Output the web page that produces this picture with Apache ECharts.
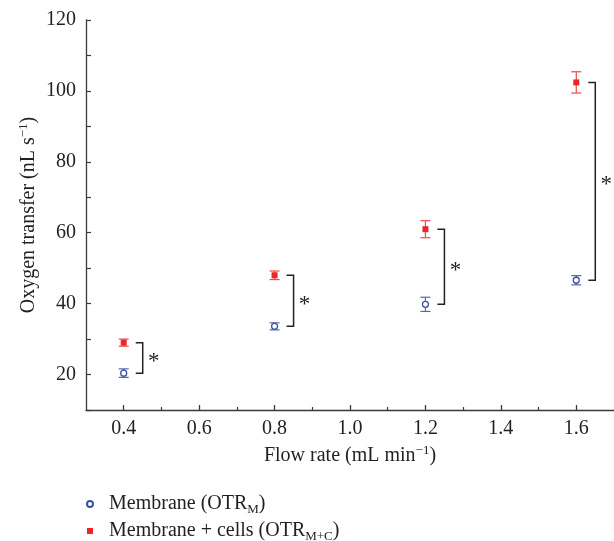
<!DOCTYPE html>
<html>
<head>
<meta charset="utf-8">
<script src="https://cdn.jsdelivr.net/npm/echarts@6/dist/echarts.min.js"></script>
<style>
  html, body { margin: 0; padding: 0; background: #fff; }
  #chart { width: 614px; height: 541px; }
</style>
</head>
<body>
<div id="chart"></div>
<script>
  // values
  const flowRates = [0.4, 0.8, 1.2, 1.6]
  const membrane = [20.4, 33.6, 39.8, 46.6]
  const membraneErr = [1.2, 1.0, 2.0, 1.3]
  const cells = [29.0, 48.0, 61.0, 102.4]
  const cellsErr = [1.0, 1.2, 2.4, 3.0]
  const xLabelTicks = [0.4, 0.6, 0.8, 1.0, 1.2, 1.4, 1.6]
  const xMinorTicks = [0.5, 0.7, 0.9, 1.1, 1.3, 1.5]
  const yLabelTicks = [20, 40, 60, 80, 100, 120]

  const serif = 'Liberation Serif'
  const ink = '#231f20'
  const blue = '#3b50a3'
  const red = '#e8262b'

  function errorBar(color) {
    return function (params, api) {
      const x = api.value(0)
      const lo = api.coord([x, api.value(1)])
      const hi = api.coord([x, api.value(2)])
      const w = 5
      const style = { stroke: color, lineWidth: 1.2 }
      return {
        type: 'group',
        children: [
          { type: 'line', shape: { x1: lo[0], y1: lo[1], x2: hi[0], y2: hi[1] }, style: style },
          { type: 'line', shape: { x1: lo[0] - w, y1: lo[1], x2: lo[0] + w, y2: lo[1] }, style: style },
          { type: 'line', shape: { x1: hi[0] - w, y1: hi[1], x2: hi[0] + w, y2: hi[1] }, style: style }
        ]
      }
    }
  }

  // significance bracket between the two means, with a star
  function bracket(params, api) {
    const x = api.value(0)
    const top = api.coord([x, api.value(1)])
    const bot = api.coord([x, api.value(2)])
    const a = top[0] + 12
    const b = top[0] + 19
    return {
      type: 'group',
      children: [
        {
          type: 'polyline',
          shape: { points: [[a, top[1]], [b, top[1]], [b, bot[1]], [a, bot[1]]] },
          style: { stroke: '#222', lineWidth: 1.5, fill: null }
        },
        {
          type: 'text',
          x: b + 11,
          y: (top[1] + bot[1]) / 2 + 4,
          style: { text: '*', font: '23px "' + serif + '"', fill: ink, align: 'center', verticalAlign: 'middle' }
        }
      ]
    }
  }

  const membraneBars = flowRates.map((x, i) => [x, membrane[i] - membraneErr[i], membrane[i] + membraneErr[i]])
  const cellsBars = flowRates.map((x, i) => [x, cells[i] - cellsErr[i], cells[i] + cellsErr[i]])
  const brackets = flowRates.map((x, i) => [x, cells[i], membrane[i]])

  const axisLine = { lineStyle: { color: '#3a3a3a', width: 1.3 } }
  const supRich = {
    sup: { fontFamily: serif, fontSize: 13, color: ink, verticalAlign: 'top', lineHeight: 24 }
  }

  let option = {
    animation: false,
    backgroundColor: '#fff',
    grid: { left: 86, right: 0, top: 20, bottom: 131 },
    legend: {
      orient: 'vertical',
      left: 86,
      top: 492,
      height: 120,
      padding: 0,
      itemGap: 3,
      itemWidth: 6,
      itemHeight: 6,
      data: [
        { name: 'Membrane', icon: 'circle' },
        { name: 'Membrane + cells', icon: 'rect' }
      ],
      formatter: function (name) {
        return name === 'Membrane' ? 'Membrane (OTR{sub|M})' : 'Membrane + cells (OTR{sub|M+C})'
      },
      textStyle: {
        fontFamily: serif,
        fontSize: 20,
        color: ink,
        lineHeight: 24,
        padding: [0, 0, 0, 11],
        rich: {
          sub: { fontFamily: serif, fontSize: 13, color: ink, verticalAlign: 'bottom', lineHeight: 24 }
        }
      }
    },
    xAxis: [
      {
        type: 'value',
        min: 0.3,
        max: 1.7,
        name: 'Flow rate (mL min{sup|−1})',
        nameLocation: 'middle',
        nameGap: 32,
        nameTextStyle: { fontFamily: serif, fontSize: 20, color: ink, lineHeight: 24, rich: supRich },
        axisLine: axisLine,
        axisTick: { show: true, inside: true, length: 5, customValues: xLabelTicks, lineStyle: { color: '#3a3a3a', width: 1.3 } },
        axisLabel: {
          customValues: xLabelTicks,
          margin: 9,
          fontFamily: serif,
          fontSize: 20,
          color: ink,
          formatter: v => v.toFixed(1)
        },
        splitLine: { show: false }
      },
      {
        type: 'value',
        min: 0.3,
        max: 1.7,
        position: 'bottom',
        axisLine: { show: false },
        axisTick: { show: true, inside: true, length: 3, customValues: xMinorTicks, lineStyle: { color: '#3a3a3a', width: 1.2 } },
        axisLabel: { show: false },
        splitLine: { show: false }
      }
    ],
    yAxis: {
      type: 'value',
      min: 10,
      max: 120,
      interval: 10,
      name: 'Oxygen transfer (nL s{sup|−1})',
      nameLocation: 'middle',
      nameGap: 45,
      nameMoveOverlap: false,
      nameTextStyle: { fontFamily: serif, fontSize: 20, color: ink, lineHeight: 24, rich: supRich },
      axisLine: { show: true, lineStyle: { color: '#3a3a3a', width: 1.3 } },
      axisTick: { show: true, inside: true, length: 5, lineStyle: { color: '#3a3a3a', width: 1.2 } },
      axisLabel: {
        margin: 10,
        fontFamily: serif,
        fontSize: 20,
        color: ink,
        formatter: v => (yLabelTicks.indexOf(v) >= 0 ? String(v) : '')
      },
      splitLine: { show: false }
    },
    series: [
      {
        name: 'Membrane',
        type: 'scatter',
        data: flowRates.map((x, i) => [x, membrane[i]]),
        symbol: 'circle',
        symbolSize: 6,
        itemStyle: { color: '#fff', borderColor: blue, borderWidth: 1.3, opacity: 1 },
        z: 5
      },
      {
        name: 'Membrane + cells',
        type: 'scatter',
        data: flowRates.map((x, i) => [x, cells[i]]),
        symbol: 'rect',
        symbolSize: 6,
        itemStyle: { color: red, opacity: 1 },
        z: 5
      },
      {
        type: 'custom',
        renderItem: errorBar('#5667b0'),
        data: membraneBars,
        encode: { x: 0, y: [1, 2] },
        z: 3
      },
      {
        type: 'custom',
        renderItem: errorBar('#f04a47'),
        data: cellsBars,
        encode: { x: 0, y: [1, 2] },
        z: 3
      },
      {
        type: 'custom',
        renderItem: bracket,
        data: brackets,
        encode: { x: 0, y: [1, 2] },
        z: 3
      }
    ]
  }

  const chart = echarts.init(document.getElementById('chart'))
  chart.setOption(option)
  window.addEventListener('resize', () => {
    chart.resize()
  })
</script>
</body>
</html>
